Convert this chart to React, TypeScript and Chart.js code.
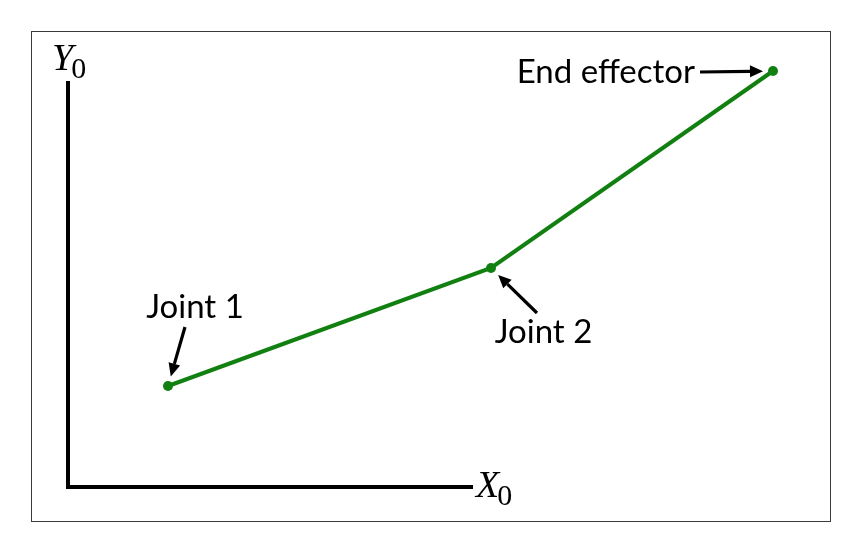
import { useEffect, useRef } from 'react';
import Chart from 'chart.js/auto';

// all positions in data units: 1 unit = 100 px, origin at the corner of the frame axes
const axisX = [0, 0, 4.05];
const axisY = [4.06, 0, 0];

const jointNames = ['Joint 1', 'Joint 2', 'End effector'];
const jointX = [1.0, 4.23, 7.05];
const jointY = [1.01, 2.19, 4.16];

// where each label sits and where its arrow starts
const labelX = [1.27, 4.755, 6.27];
const labelY = [1.69, 1.44, 4.04];
const labelAlign: CanvasTextAlign[] = ['center', 'center', 'right'];
const arrowTailX = [1.17, 4.69, 6.32];
const arrowTailY = [1.6, 1.74, 4.15];

const axisNames = ['Y', 'X'];
const axisNameX = [-0.16, 4.08];
const axisNameY = [4.17, -0.1];

const GREEN = '#118011';

const annotations = {
  id: 'annotations',
  beforeDraw(chart: Chart) {
    const { ctx, width, height } = chart;
    ctx.save();
    ctx.fillStyle = '#fff';
    ctx.fillRect(0, 0, width, height);
    ctx.strokeStyle = '#3a3a3a';
    ctx.lineWidth = 1;
    ctx.strokeRect(31.5, 31.5, 799, 490);
    ctx.restore();
  },
  afterDatasetsDraw(chart: Chart) {
    const { ctx } = chart;
    const xs = chart.scales.x;
    const ys = chart.scales.y;
    ctx.save();

    // arrows from label to joint
    jointNames.forEach((_, i) => {
      const tx = xs.getPixelForValue(arrowTailX[i]);
      const ty = ys.getPixelForValue(arrowTailY[i]);
      const px = xs.getPixelForValue(jointX[i]);
      const py = ys.getPixelForValue(jointY[i]);
      const dx = tx - px;
      const dy = ty - py;
      const len = Math.hypot(dx, dy);
      const ux = dx / len;
      const uy = dy / len;
      const hx = px + ux * 10;
      const hy = py + uy * 10;
      const head = 13;
      const bx = hx + ux * head;
      const by = hy + uy * head;
      ctx.strokeStyle = '#000';
      ctx.lineWidth = 3.2;
      ctx.beginPath();
      ctx.moveTo(tx, ty);
      ctx.lineTo(bx, by);
      ctx.stroke();
      ctx.fillStyle = '#000';
      ctx.beginPath();
      ctx.moveTo(hx, hy);
      ctx.lineTo(bx - uy * 6, by + ux * 6);
      ctx.lineTo(bx + uy * 6, by - ux * 6);
      ctx.closePath();
      ctx.fill();
    });

    // joint labels
    ctx.fillStyle = '#000';
    ctx.font = '33px Lato, "Open Sans", sans-serif';
    ctx.textBaseline = 'alphabetic';
    jointNames.forEach((name, i) => {
      ctx.textAlign = labelAlign[i];
      ctx.fillText(name, xs.getPixelForValue(labelX[i]), ys.getPixelForValue(labelY[i]));
    });

    // frame axis names with subscript 0
    ctx.textAlign = 'left';
    axisNames.forEach((name, i) => {
      const x = xs.getPixelForValue(axisNameX[i]);
      const y = ys.getPixelForValue(axisNameY[i]);
      ctx.font = 'italic 38px "Liberation Serif", serif';
      ctx.fillText(name, x, y);
      const w = ctx.measureText(name).width;
      ctx.font = '30px "Liberation Serif", serif';
      ctx.fillText('0', x + w - 2, y + 8);
    });
    ctx.restore();
  },
};

const App = () => {
  const chartRef = useRef<HTMLCanvasElement>(null);
  const chartInstance = useRef<Chart | null>(null);

  useEffect(() => {
    if (!chartRef.current) return;
    if (chartInstance.current) chartInstance.current.destroy();
    const ctx = chartRef.current.getContext('2d');
    if (!ctx) return;

    chartInstance.current = new Chart(ctx, {
      type: 'scatter',
      data: {
        datasets: [
          {
            label: 'Frame',
            data: axisX.map((x, i) => ({ x, y: axisY[i] })),
            showLine: true,
            borderColor: '#000',
            borderWidth: 4,
            borderJoinStyle: 'miter',
            pointRadius: 0,
          },
          {
            label: 'Arm',
            data: jointX.map((x, i) => ({ x, y: jointY[i] })),
            showLine: true,
            borderColor: GREEN,
            borderWidth: 4,
            pointRadius: 5,
            pointBorderWidth: 0,
            pointBackgroundColor: GREEN,
          },
        ],
      },
      options: {
        responsive: false,
        animation: false,
        events: [],
        layout: { padding: 0, autoPadding: false },
        plugins: {
          legend: { display: false },
          tooltip: { enabled: false },
        },
        scales: {
          x: { type: 'linear', min: -0.68, max: 7.94, display: false },
          y: { type: 'linear', min: -0.68, max: 4.87, display: false },
        },
      },
      plugins: [annotations],
    });

    return () => {
      if (chartInstance.current) {
        chartInstance.current.destroy();
        chartInstance.current = null;
      }
    };
  }, []);

  return (
    <div style={{ position: 'absolute', left: 0, top: 0, width: 862, height: 555, background: '#fff' }}>
      <canvas ref={chartRef} width={862} height={555}></canvas>
    </div>
  );
};

export default App;
